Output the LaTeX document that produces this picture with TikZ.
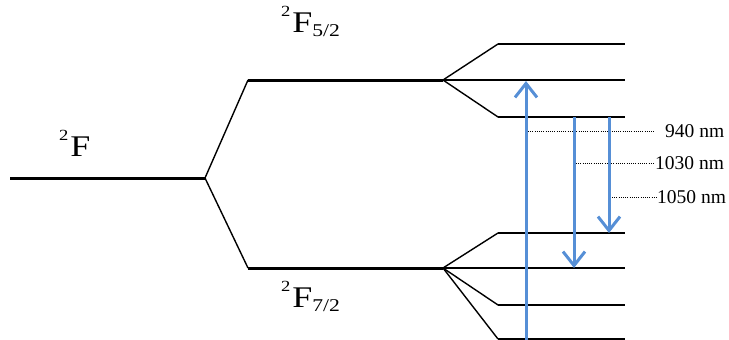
\documentclass[tikz,border=0pt]{standalone}
\usepackage{fontspec}
\setmainfont{Liberation Serif}
\usetikzlibrary{arrows.meta}
\definecolor{lvlblue}{RGB}{86,143,214}
\tikzset{
  thicklevel/.style={line width=3pt},
  thinlevel/.style={line width=1.6pt},
  branch/.style={line width=1.4pt},
  transition/.style={draw=lvlblue, line width=3pt, -{Straight Barb[length=14pt,width=22pt,line width=3pt]}},
  leader/.style={line width=1pt, dash pattern=on 1pt off 1.2pt},
  wl/.style={inner sep=0pt, anchor=west, font=\fontsize{19.5}{20}\selectfont},
  term/.style={inner sep=0pt, anchor=base west, font=\fontsize{30}{32}\selectfont},
}
\newcommand{\supx}[1]{\raisebox{15.5pt}{\fontsize{15.5}{16}\selectfont #1}\kern1.5pt}
\newcommand{\subx}[1]{\raisebox{-4.3pt}{\fontsize{18}{19}\selectfont #1}}
\newcommand{\wider}[1]{\scalebox{1.2}[1]{#1}}
\begin{document}
\begin{tikzpicture}[x=1pt,y=-1pt]
\useasboundingbox (0,0) rectangle (729,340);
% coordinates
\coordinate (F0) at (10,178);
\coordinate (F1) at (205,178);
\coordinate (U0) at (248,80);
\coordinate (U1) at (443,80);
\coordinate (L0) at (248,268);
\coordinate (L1) at (443,268);
\coordinate (ua) at (498,44);  \coordinate (ua2) at (625,44);
\coordinate (ub2) at (625,80);
\coordinate (uc) at (498,117); \coordinate (uc2) at (625,117);
\coordinate (la) at (498,233); \coordinate (la2) at (625,233);
\coordinate (lb2) at (625,268);
\coordinate (lc) at (498,305); \coordinate (lc2) at (625,305);
\coordinate (ld) at (498,339); \coordinate (ld2) at (625,339);
% main levels
\draw[thicklevel] (F0) -- (F1);
\draw[thicklevel] (U0) -- (U1);
\draw[thicklevel] (L0) -- (L1);
\draw[branch] (U0) -- (F1) -- (L0);
% sublevels
\draw[branch] (ua) -- (U1) -- (uc);
\draw[thinlevel] (ua) -- (ua2);
\draw[thinlevel] (U1) -- (ub2);
\draw[thinlevel] (uc) -- (uc2);
\draw[branch] (la) -- (L1) -- (lc);
\draw[branch] (L1) -- (ld);
\draw[thinlevel] (la) -- (la2);
\draw[thinlevel] (L1) -- (lb2);
\draw[thinlevel] (lc) -- (lc2);
\draw[thinlevel] (ld) -- (ld2);
% labels
\node[term] (tF) at (59,156) {\wider{\supx{2}F}};
\node[term] (tU) at (281,32) {\wider{\supx{2}F\subx{5/2}}};
\node[term] (tL) at (281,307) {\wider{\supx{2}F\subx{7/2}}};
% transitions
\coordinate (a1s) at (526,340); \coordinate (a1e) at (526,81);
\coordinate (a2s) at (574,117); \coordinate (a2e) at (574,268);
\coordinate (a3s) at (609,117); \coordinate (a3e) at (609,233);
% leaders and wavelength labels
\node[wl] (w1) at (665,131) {940 nm};
\node[wl] (w2) at (655,163) {1030 nm};
\node[wl] (w3) at (657,197) {1050 nm};
\coordinate (d1) at (528,131);
\coordinate (d2) at (576,163);
\coordinate (d3) at (612,197);
\coordinate (d1e) at (655,131);
\draw[leader] (d1) -- (d1e);
\draw[leader] (d2) -- (w2.west);
\draw[leader] (d3) -- (w3.west);
\draw[transition] (a1s) -- (a1e);
\draw[transition] (a2s) -- (a2e);
\draw[transition] (a3s) -- (a3e);
\end{tikzpicture}
\end{document}
